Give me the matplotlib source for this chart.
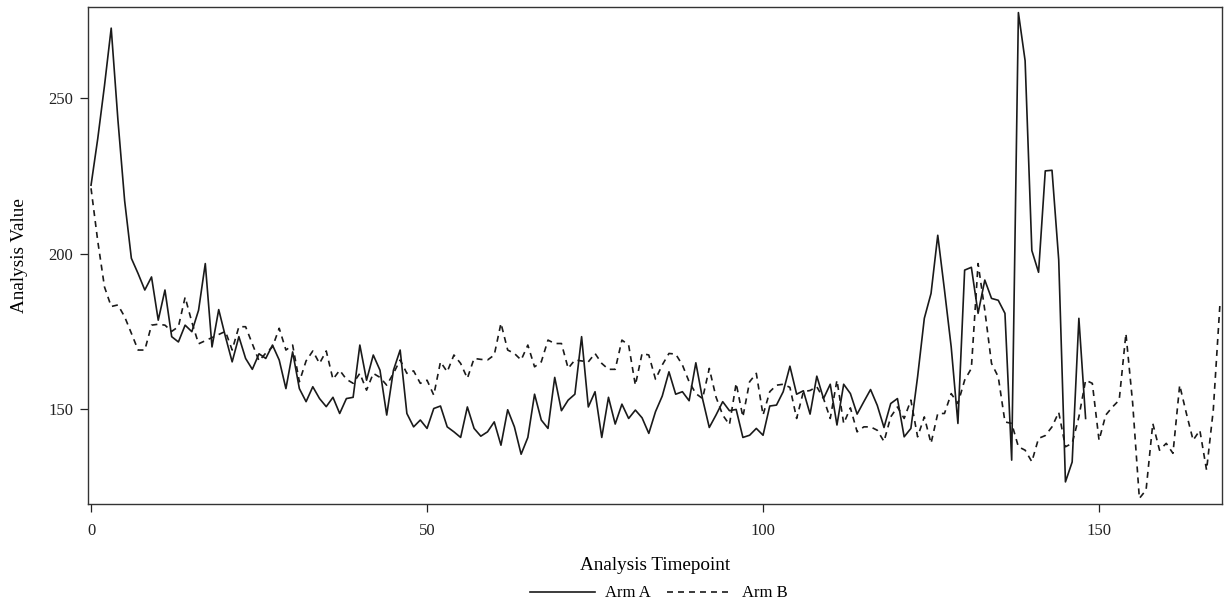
import matplotlib
matplotlib.use("Agg")
import matplotlib.pyplot as plt

arm_a = [222, 237, 254, 272.5, 243, 217, 198.5, 193.6, 188.3, 192.5,
         178.6, 188.3, 173.3, 171.6, 177, 174.9, 181.8, 196.8, 170, 182,
         173.3, 165.2, 173.3, 166.3, 162.8, 167.8, 166.3, 170.6, 165.8, 156.6,
         168.4, 156.6, 152.4, 157.2, 153.4, 150.8, 153.8, 148.6, 153.4, 153.8,
         170.6, 159.3, 167.4, 162.5, 148.1, 162.5, 169, 148.6, 144.3, 146.5,
         143.8, 150.2, 151, 144.3, 142.7, 140.9, 150.7, 143.8, 141.3, 142.7,
         145.9, 138.4, 149.8, 144.3, 135.5, 140.9, 154.8, 146.5, 143.8, 160.2,
         149.5, 152.9, 154.8, 173.3, 150.7, 155.6, 140.9, 153.8, 145.2, 151.6,
         147, 149.7, 147.2, 142.2, 149.2, 154.2, 162, 154.8, 155.6, 152.7,
         164.9, 153.3, 144.1, 148.1, 152.4, 149.5, 149.9, 140.9, 141.6, 143.8,
         141.6, 151, 151.3, 155.6, 163.8, 154.8, 155.9, 148.4, 160.6, 153.4,
         158, 144.9, 158, 155, 148.4, 152.4, 156.3, 151.2, 144.1, 151.8,
         153.4, 141.1, 143.8, 160.4, 179.2, 187.2, 205.9, 188.3, 170, 145.4,
         194.7, 195.6, 180.8, 191.5, 185.6, 185, 180.8, 133.6, 277.5, 262,
         201, 194, 226.6, 226.8, 198, 126.6, 133, 179.2, 147]

arm_b = [221, 204, 189.3, 183, 183.5, 179.7, 174.4, 169, 169, 177,
         177.3, 177, 175, 176.5, 186, 178, 171, 172, 173, 174,
         175, 169, 176.5, 176.5, 171, 165.5, 168, 170, 176, 169,
         170.6, 158.8, 165.5, 168.7, 164.7, 168.7, 159.6, 162.5, 159.6, 158.3,
         161.5, 156.1, 161.5, 160.2, 157.7, 161.5, 165.8, 161.5, 162.3, 158.3,
         159.3, 154.5, 165.2, 162, 167.4, 164.7, 159.9, 166.3, 166, 165.8,
         167.4, 177.6, 169, 167.9, 165.8, 170.6, 163.6, 165.2, 172.2, 171.1,
         171.1, 163.1, 165.8, 165.5, 165.2, 167.9, 164.7, 162.8, 162.8, 172.2,
         170.6, 157.7, 167.9, 167.4, 159.6, 164.2, 167.9, 167.7, 164.2, 158.8,
         155, 153.4, 163.1, 153.9, 148.1, 145, 158.3, 147.5, 158.8, 161.5,
         148.1, 155.6, 157.7, 158, 157, 147, 155.6, 156, 157.2, 153.4,
         147, 159.3, 145.4, 150.4, 142.7, 144.3, 144.3, 143.2, 139.6, 147.5,
         150.7, 147, 152.9, 141.1, 147.5, 139, 148.6, 148.6, 155, 151.8,
         159.3, 163.1, 196.8, 181.8, 164.7, 160.4, 145.9, 145.4, 137.9, 136.8,
         133.1, 140.6, 141.5, 144.3, 149, 137.9, 139, 147.5, 159.3, 158.3,
         140, 148.1, 150.7, 152.9, 174.3, 152, 121.3, 124, 145.4, 136.8,
         139, 135.8, 157.7, 148.6, 140, 143.2, 130.4, 149.7, 184]

x_a = list(range(len(arm_a)))
x_b = list(range(len(arm_b)))
x_ticks = [0, 50, 100, 150]
y_ticks = [150, 200, 250]
series_names = ["Arm A", "Arm B"]

plt.rcParams['font.family'] = ['Liberation Serif', 'DejaVu Serif']

fig = plt.figure(figsize=(12.31, 6.02), dpi=100)
ax = fig.add_axes([0.0715, 0.1628, 0.9212, 0.8256])

col = "#1a1a1a"
ax.plot(x_a, arm_a, color=col, lw=1.2, label=series_names[0])
ax.plot(x_b, arm_b, color=col, lw=1.2, linestyle=(0, (3.6, 3.0)), label=series_names[1])

ax.set_xlim(-0.45, 168.3)
ax.set_ylim(119.5, 279.3)
ax.set_xticks(x_ticks)
ax.set_yticks(y_ticks)
ax.tick_params(direction='out', length=5.5, width=0.9, labelsize=12, colors='#222222')
ax.tick_params(axis='x', pad=8)
ax.tick_params(axis='y', pad=5)
for s in ax.spines.values():
    s.set_linewidth(1.0)
    s.set_color('#333333')

ax.set_xlabel("Analysis Timepoint", fontsize=13.8, labelpad=13)
ax.set_ylabel("Analysis Value", fontsize=13.8, labelpad=15)

fig.legend(loc='lower center', bbox_to_anchor=(0.535, -0.024), ncol=2, frameon=False,
           fontsize=12, handlelength=3.9, columnspacing=1.0, handletextpad=0.6)

fig.savefig("out.png", dpi=100)
